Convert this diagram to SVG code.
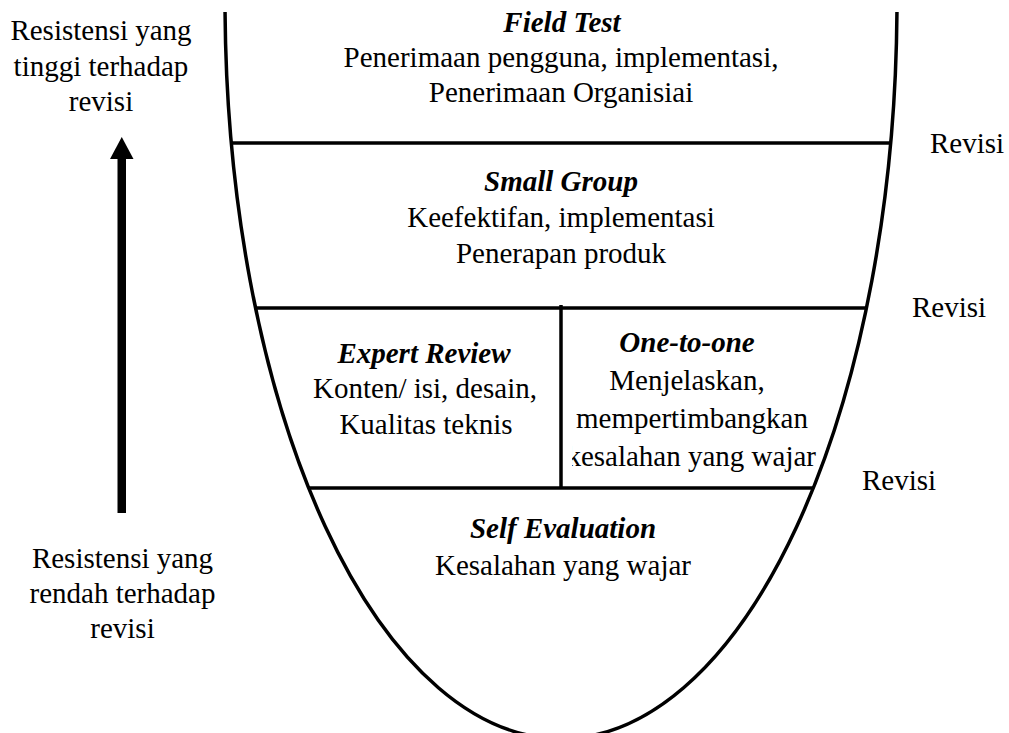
<svg xmlns="http://www.w3.org/2000/svg" width="1009" height="733" viewBox="0 0 1009 733">
<style>
  text { font-family: "Liberation Serif", "Times New Roman", serif; font-size: 29px; fill: #000; }
  .c { text-anchor: middle; }
  .e { text-anchor: end; }
  .t { font-weight: bold; font-style: italic; }
  .ln { stroke: #000; stroke-width: 3.5; fill: none; }
</style>
<defs>
  <clipPath id="clipOne">
    <rect x="572" y="438" width="260" height="40"/>
  </clipPath>
</defs>
<rect width="1009" height="733" fill="#fff"/>

<g id="frame">
  <path class="ln" d="M225.04,12 A336,738 0 0 0 896.96,12"/>
  <line class="ln" x1="231" y1="143" x2="891" y2="143"/>
  <line class="ln" x1="255" y1="308" x2="867" y2="308"/>
  <line class="ln" x1="309" y1="488" x2="813" y2="488"/>
  <line class="ln" x1="561" y1="305" x2="561" y2="488"/>
</g>

<g id="field-test">
  <text class="c t" x="562" y="32">Field Test</text>
  <text class="c" x="561" y="67">Penerimaan pengguna, implementasi,</text>
  <text class="c" x="561" y="102">Penerimaan Organisiai</text>
</g>

<g id="small-group">
  <text class="c t" x="561" y="191">Small Group</text>
  <text class="c" x="561" y="227">Keefektifan, implementasi</text>
  <text class="c" x="561" y="263">Penerapan produk</text>
</g>

<g id="expert-review">
  <text class="c t" x="424" y="363">Expert Review</text>
  <text class="c" x="425" y="398">Konten/ isi, desain,</text>
  <text class="c" x="426" y="434">Kualitas teknis</text>
</g>

<g id="one-to-one">
  <text class="c t" x="687" y="352">One-to-one</text>
  <text class="c" x="687" y="390">Menjelaskan,</text>
  <text class="c" x="692" y="428">mempertimbangkan</text>
  <text class="e" x="816" y="466" clip-path="url(#clipOne)">kesalahan yang wajar</text>
</g>

<g id="self-evaluation">
  <text class="c t" x="563" y="538">Self Evaluation</text>
  <text class="c" x="563" y="575">Kesalahan yang wajar</text>
</g>

<g id="revisi-labels">
  <text x="930" y="153">Revisi</text>
  <text x="912" y="317">Revisi</text>
  <text x="862" y="490">Revisi</text>
</g>

<g id="resistance-high">
  <text class="c" x="101" y="40">Resistensi yang</text>
  <text class="c" x="101" y="76">tinggi terhadap</text>
  <text class="c" x="101" y="111">revisi</text>
</g>

<g id="resistance-low">
  <text class="c" x="122.5" y="568">Resistensi yang</text>
  <text class="c" x="122.5" y="603">rendah terhadap</text>
  <text class="c" x="122.5" y="638">revisi</text>
</g>

<g id="connectors">
  <rect x="117.5" y="157" width="8.5" height="356" fill="#000"/>
  <polygon points="121.75,137 110,159 133.5,159" fill="#000"/>
</g>
</svg>
